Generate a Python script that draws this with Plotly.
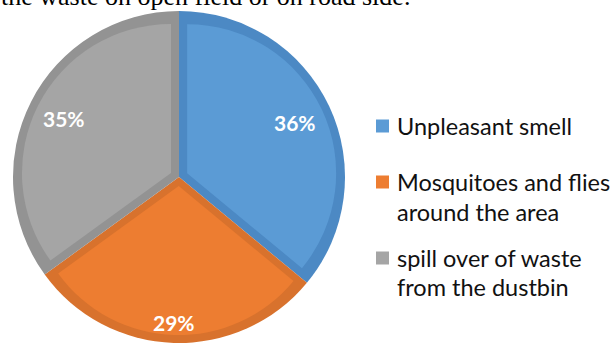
import math
import plotly.graph_objects as go

# ---- data ----
labels = ["Unpleasant smell", "Mosquitoes and flies around the area", "spill over of waste from the dustbin"]
legend_lines = [["Unpleasant smell"], ["Mosquitoes and flies", "around the area"], ["spill over of waste", "from the dustbin"]]
values = [36, 29, 35]
light_colors = ["#5B9BD5", "#ED7D31", "#A5A5A5"]
dark_colors = ["#4C89C4", "#D8722D", "#939393"]
caption = "the waste on open field or on road side."

W, H = 613, 343
CX, CY = 179, 177          # pie centre (px, from top)
R = 166                     # outer radius (px)
BAND = 8                    # border band width
SHIFT = 9                   # pull distance for inner layer

def px(x):
    return x / W

def py(y):
    return 1 - y / H

fig = go.Figure()

# dark (border) layer
fig.add_trace(go.Pie(
    values=values, labels=labels, sort=False, direction="clockwise", rotation=0,
    marker=dict(colors=dark_colors, line=dict(width=0)),
    textinfo="none", hoverinfo="label+percent", showlegend=False,
    domain=dict(x=[px(CX - R), px(CX + R)], y=[py(CY + R), py(CY - R)]),
))

# light (fill) layer, pulled to reveal border bands
rd = R - BAND
p = SHIFT / (rd - SHIFT)
fig.add_trace(go.Pie(
    values=values, labels=labels, sort=False, direction="clockwise", rotation=0,
    pull=[p] * len(values),
    marker=dict(colors=light_colors, line=dict(width=0)),
    textinfo="none", hoverinfo="label+percent", showlegend=False,
    domain=dict(x=[px(CX - rd), px(CX + rd)], y=[py(CY + rd), py(CY - rd)]),
))

annotations = []
# percentage labels along bisectors
label_r = [0.77, 0.875, 0.78]
total = sum(values)
start = 0.0
for v, fr in zip(values, label_r):
    mid = (start + v / 2) / total * 2 * math.pi
    start += v
    lx = CX + fr * R * math.sin(mid)
    ly = CY - fr * R * math.cos(mid)
    annotations.append(dict(
        x=px(lx), y=py(ly), xref="paper", yref="paper", showarrow=False,
        text=f"<b>{round(v / total * 100)}%</b>", xanchor="center", yanchor="middle",
        font=dict(family="Lato", size=21, color="white"),
    ))

# legend
leg_y = [[126], [182, 212], [258, 287]]
for lines, ys, col in zip(legend_lines, leg_y, light_colors):
    fig.add_shape(type="rect", xref="paper", yref="paper",
                  x0=px(376), x1=px(389), y0=py(ys[0] + 6.5), y1=py(ys[0] - 6.5),
                  fillcolor=col, line=dict(width=0))
    for t, yy in zip(lines, ys):
        annotations.append(dict(
            x=px(395), y=py(yy), xref="paper", yref="paper", showarrow=False,
            text=t, xanchor="left", yanchor="middle",
            font=dict(family="Lato", size=23.5, color="#111111"),
        ))

# cropped caption at top
annotations.append(dict(
    x=px(-1), y=py(-3), xref="paper", yref="paper", showarrow=False,
    text=caption, xanchor="left", yanchor="middle",
    font=dict(family="Liberation Serif", size=26, color="black"),
))

fig.update_layout(
    width=W, height=H, margin=dict(l=0, r=0, t=0, b=0),
    paper_bgcolor="white", plot_bgcolor="white", showlegend=False,
    annotations=annotations,
)

fig.write_html("out.html")
